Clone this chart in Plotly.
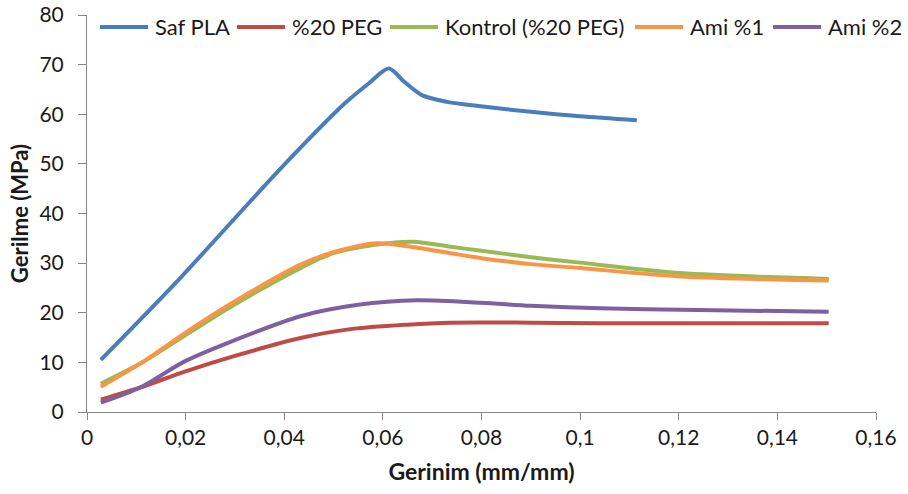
import plotly.graph_objects as go

# Stress-strain curves (strain in mm/mm, stress in MPa)
saf_pla_x = [0.0028, 0.0189, 0.0392, 0.0524, 0.0570, 0.0612, 0.0645, 0.0680, 0.0730, 0.0798, 0.0900, 0.1000, 0.1115]
saf_pla_y = [10.5, 27.0, 49.0, 62.3, 66.1, 69.2, 66.4, 63.8, 62.5, 61.6, 60.5, 59.6, 58.8]

peg20_x = [0.0028, 0.0107, 0.0200, 0.0300, 0.0433, 0.0534, 0.0650, 0.0737, 0.0900, 0.1040, 0.1200, 0.1504]
peg20_y = [2.5, 4.9, 8.2, 11.3, 14.9, 16.7, 17.6, 18.0, 18.0, 17.9, 17.9, 17.9]

kontrol_x = [0.0028, 0.0107, 0.0200, 0.0300, 0.0433, 0.0500, 0.0600, 0.0662, 0.0737, 0.0800, 0.0900, 0.1000, 0.1204, 0.1504]
kontrol_y = [5.7, 9.7, 15.5, 21.7, 29.0, 32.0, 33.9, 34.3, 33.3, 32.5, 31.2, 30.1, 28.0, 26.8]

ami1_x = [0.0028, 0.0107, 0.0200, 0.0300, 0.0433, 0.0500, 0.0588, 0.0650, 0.0737, 0.0800, 0.0900, 0.1002, 0.1204, 0.1504]
ami1_y = [5.1, 9.7, 16.0, 22.3, 29.7, 32.2, 34.0, 33.4, 32.0, 31.0, 29.8, 29.0, 27.3, 26.5]

ami2_x = [0.0028, 0.0107, 0.0200, 0.0300, 0.0433, 0.0550, 0.0669, 0.0800, 0.0900, 0.1040, 0.1204, 0.1504]
ami2_y = [1.9, 4.9, 10.3, 14.5, 19.3, 21.6, 22.5, 22.0, 21.4, 20.9, 20.6, 20.2]

series_names = ["Saf PLA", "%20 PEG", "Kontrol (%20 PEG)", "Ami %1", "Ami %2"]
series_x = [saf_pla_x, peg20_x, kontrol_x, ami1_x, ami2_x]
series_y = [saf_pla_y, peg20_y, kontrol_y, ami1_y, ami2_y]
series_colors = ["#4A7EBB", "#BE4B48", "#98B954", "#F79646", "#7D60A0"]

x_ticks = [0, 0.02, 0.04, 0.06, 0.08, 0.1, 0.12, 0.14, 0.16]
y_ticks = [0, 10, 20, 30, 40, 50, 60, 70, 80]

FONT = "Lato, Carlito, Calibri, 'Open Sans', sans-serif"
TEXT = "#1a1a1a"
AXIS_GRAY = "#868686"

W, H = 908, 494
ML, MR, MT, MB = 87, 32, 15, 82
PW, PH = W - ML - MR, H - MT - MB


def px_to_paper_x(px):
    return (px - ML) / PW


def px_to_paper_y(py):
    return (H - MB - py) / PH


fig = go.Figure()
for name, xs, ys, color in zip(series_names, series_x, series_y, series_colors):
    fig.add_trace(go.Scatter(
        x=xs, y=ys, name=name, mode="lines", showlegend=False,
        line=dict(color=color, width=4, shape="spline", smoothing=0.8),
    ))

# Legend row along the top of the plot: long line samples followed by labels
legend_row_y = 27
legend_line_start = [100, 237, 390, 635, 773]
legend_line_len = 48
legend_text_gap = 6
shapes, annotations = [], []
for name, color, x0 in zip(series_names, series_colors, legend_line_start):
    shapes.append(dict(
        type="line", xref="paper", yref="paper",
        x0=px_to_paper_x(x0), x1=px_to_paper_x(x0 + legend_line_len),
        y0=px_to_paper_y(legend_row_y), y1=px_to_paper_y(legend_row_y),
        line=dict(color=color, width=4),
    ))
    annotations.append(dict(
        xref="paper", yref="paper", showarrow=False,
        x=px_to_paper_x(x0 + legend_line_len + legend_text_gap),
        y=px_to_paper_y(legend_row_y), xanchor="left", yanchor="middle",
        text=name, font=dict(family=FONT, size=22, color=TEXT), borderpad=0,
    ))

fig.update_layout(
    width=W, height=H,
    margin=dict(l=ML, r=MR, t=MT, b=MB, autoexpand=False),
    paper_bgcolor="white", plot_bgcolor="white",
    separators=", ",
    font=dict(family=FONT, size=21, color=TEXT),
    showlegend=False,
    shapes=shapes,
    annotations=annotations,
    xaxis=dict(
        range=[0, 0.16], tickvals=x_ticks, ticks="outside", ticklen=7,
        tickcolor=AXIS_GRAY, showline=True, linecolor=AXIS_GRAY, linewidth=1,
        showgrid=False, zeroline=False, tickfont=dict(size=21),
        automargin=False, ticklabeloverflow="allow",
        title=dict(text="<b>Gerinim (mm/mm)</b>", font=dict(size=23), standoff=15),
    ),
    yaxis=dict(
        range=[0, 80], tickvals=y_ticks, ticks="outside", ticklen=8,
        tickcolor=AXIS_GRAY, showline=True, linecolor=AXIS_GRAY, linewidth=1,
        showgrid=False, zeroline=False, tickfont=dict(size=21),
        automargin=False, ticklabeloverflow="allow", ticklabelstandoff=10,
        title=dict(text="<b>Gerilme (MPa)</b>", font=dict(size=22), standoff=4),
    ),
)

fig.write_html("out.html")
